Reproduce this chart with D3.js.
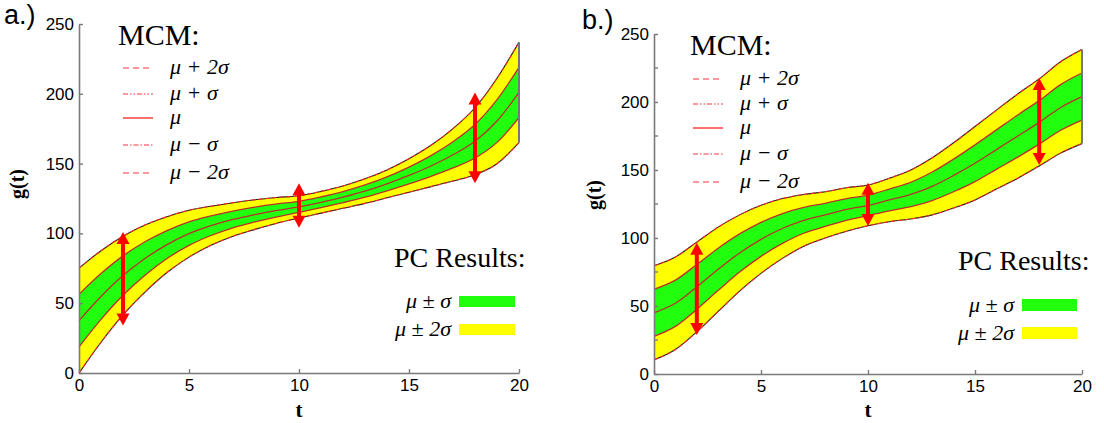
<!DOCTYPE html>
<html><head><meta charset="utf-8">
<script src="https://cdn.jsdelivr.net/npm/d3@7"></script>
<style>body{margin:0;background:#fff}svg{display:block}</style>
</head><body>
<svg id="c" width="1104" height="423"></svg>
<script>
// ---- data ----
const tValues = [0,1,2,3,4,5,6,7,8,9,10,11,12,13,14,15,16,17,18,19,20];
const muA    = [37.5,54.8,69.8,82,92,99.8,105.5,110,113.5,116.5,119,122.3,126,130.3,135.5,141.5,148.3,156.3,166,180.5,201];
const sigmaA = [18.8,16.4,14.1,12,10,8.4,7,6,5.3,4.6,4,3.9,4,4.4,5,6,7.4,9.4,12,15.3,18];
const muB    = [45,52,64,77,89,99,107,113,117,121,124,128,132,138,146,155,165,175,185,196,204];
const sigmaB = [17.3,17,16.5,15.5,14,12.5,11,9.5,8.5,8,7.5,8,9,10.5,12,13.5,14.5,15.5,16,16.8,17.3];
const arrowT = [2,10,18];
const arrowLowA  = [34,104,136];
const arrowHighA = [101,136,201];
const arrowLowB  = [28.7,108.8,153.7];
const arrowHighB = [96.5,140.7,217.6];
const xTicks = [0,5,10,15,20];
const yTicks = [0,50,100,150,200,250];
const yMinorTicksB = [25,75,125,175,225];
const mcmLabels = ["μ + 2σ","μ + σ","μ","μ − σ","μ − 2σ"];
const pcLabels = ["μ ± σ","μ ± 2σ"];
const panelLabels = ["a.)","b.)"];

const svg = d3.select("#c");

const panels = [
  {mu:muA, sigma:sigmaA, lo:arrowLowA, hi:arrowHighA, label:panelLabels[0],
   x0:79, x1:519, y0:373, y1:24, minor:[],
   lab:[4,24], ylab:[24,184], tlab:[299,417],
   mcm:{tx:118, ty:45, lx0:123, lx1:153, tx2:170, rows:[68,94,118,145,173]},
   pc:{tx:394, ty:267, lx:388, rx:459, rw:56, rows:[[296,307],[324,335]]}},
  {mu:muB, sigma:sigmaB, lo:arrowLowB, hi:arrowHighB, label:panelLabels[1],
   x0:654, x1:1082, y0:374, y1:34, minor:yMinorTicksB,
   lab:[582,29], ylab:[601,195], tlab:[868,417],
   mcm:{tx:690, ty:55, lx0:693, lx1:723, tx2:740, rows:[79,104,128,154,182]},
   pc:{tx:958, ty:270, lx:953, rx:1022, rw:55, rows:[[299,311],[327,339]]}}
];

const legendDash = ["6,4","5,2,1.5,2,1.5,2",null,"5,2,1.5,2","6,4"];

panels.forEach(p => {
  const x = d3.scaleLinear().domain([0,20]).range([p.x0,p.x1]);
  const y = d3.scaleLinear().domain([0,250]).range([p.y0,p.y1]);
  const g = svg.append("g");
  const pts = tValues.map((t,i)=>({t, m:p.mu[i], s:p.sigma[i]}));
  const curve = d3.curveMonotoneX;
  const band = k => d3.area().x(d=>x(d.t)).y0(d=>y(d.m-k*d.s)).y1(d=>y(d.m+k*d.s)).curve(curve);
  const line = k => d3.line().x(d=>x(d.t)).y(d=>y(d.m+k*d.s)).curve(curve);

  g.append("path").attr("d",band(2)(pts)).attr("fill","#ffff00");
  g.append("path").attr("d",band(1)(pts)).attr("fill","#22ff0e");
  // outer edges
  [2,-2].forEach(k=>{
    g.append("path").attr("d",line(k)(pts)).attr("fill","none").attr("stroke","#222").attr("stroke-width",1.1);
    g.append("path").attr("d",line(k)(pts)).attr("fill","none").attr("stroke","#ff2a2a").attr("stroke-width",1.1).attr("stroke-dasharray","4,3");
  });
  [1,0,-1].forEach(k=>{
    g.append("path").attr("d",line(k)(pts)).attr("fill","none").attr("stroke","#b8302c").attr("stroke-width",1.3);
  });
  // right-end edge
  const last = pts[pts.length-1];
  g.append("line").attr("x1",x(last.t)).attr("x2",x(last.t))
    .attr("y1",y(last.m-2*last.s)).attr("y2",y(last.m+2*last.s))
    .attr("stroke","#777").attr("stroke-width",2);

  // arrows
  arrowT.forEach((t,i)=>{
    const ax = x(t), yt = y(p.hi[i]), yb = y(p.lo[i]);
    const hl = 12, hw = 6.5;
    g.append("line").attr("x1",ax).attr("x2",ax).attr("y1",yt+hl-1).attr("y2",yb-hl+1)
      .attr("stroke","#ff0000").attr("stroke-width",4);
    g.append("path").attr("d",`M${ax},${yt}L${ax-hw},${yt+hl}L${ax+hw},${yt+hl}Z`).attr("fill","#ff0000");
    g.append("path").attr("d",`M${ax},${yb}L${ax-hw},${yb-hl}L${ax+hw},${yb-hl}Z`).attr("fill","#ff0000");
  });

  // axes
  const xa = g.append("g").attr("transform",`translate(0,${p.y0})`)
    .call(d3.axisBottom(x).tickValues(xTicks).tickSize(-4).tickSizeOuter(0).tickPadding(6));
  const ya = g.append("g").attr("transform",`translate(${p.x0},0)`)
    .call(d3.axisLeft(y).tickValues(yTicks).tickSize(-4).tickSizeOuter(0).tickPadding(5));
  [xa,ya].forEach(a=>{
    a.select(".domain").attr("stroke","#7a7a7a").attr("stroke-width",1.6);
    a.selectAll(".tick line").attr("stroke","#7a7a7a").attr("stroke-width",1.4);
    a.selectAll("text").attr("font-family","Arial, 'Liberation Sans', sans-serif").attr("fill","#000");
  });
  xa.selectAll("text").attr("font-size",17);
  ya.selectAll("text").attr("font-size",17);
  if (p.minor.length){
    g.append("g").selectAll("line").data(p.minor).join("line")
      .attr("x1",p.x0).attr("x2",p.x0+4).attr("y1",d=>y(d)).attr("y2",d=>y(d))
      .attr("stroke","#7a7a7a").attr("stroke-width",1.4);
  }

  // labels
  g.append("text").attr("x",p.lab[0]).attr("y",p.lab[1]).text(p.label)
    .attr("font-family","Arial, 'Liberation Sans', sans-serif").attr("font-size",27);
  g.append("text").attr("transform",`translate(${p.ylab[0]},${p.ylab[1]}) rotate(-90)`)
    .attr("text-anchor","middle").text("g(t)")
    .attr("font-family","'Liberation Serif','Times New Roman',serif").attr("font-weight","bold").attr("font-size",20);
  g.append("text").attr("x",p.tlab[0]).attr("y",p.tlab[1]).attr("text-anchor","middle").text("t")
    .attr("font-family","'Liberation Serif','Times New Roman',serif").attr("font-weight","bold").attr("font-size",21);

  // MCM legend
  const m = p.mcm;
  g.append("text").attr("x",m.tx).attr("y",m.ty).text("MCM:")
    .attr("font-family","'Liberation Serif','Times New Roman',serif").attr("font-size",30);
  mcmLabels.forEach((lb,i)=>{
    const ly = m.rows[i];
    const l = g.append("line").attr("x1",m.lx0).attr("x2",m.lx1).attr("y1",ly).attr("y2",ly)
      .attr("stroke", i===2 ? "#ff1010" : "#ff3040").attr("stroke-width",1.2);
    if (legendDash[i]) l.attr("stroke-dasharray",legendDash[i]);
    g.append("text").attr("x",m.tx2).attr("y",ly+6).text(lb)
      .attr("font-family","'Liberation Serif','Times New Roman',serif").attr("font-style","italic").attr("font-size",22);
  });

  // PC legend
  const c = p.pc;
  g.append("text").attr("x",c.tx).attr("y",c.ty).text("PC Results:")
    .attr("font-family","'Liberation Serif','Times New Roman',serif").attr("font-size",28);
  ["#22ff0e","#ffff00"].forEach((col,i)=>{
    const [r0,r1] = c.rows[i];
    g.append("rect").attr("x",c.rx).attr("y",r0).attr("width",c.rw).attr("height",r1-r0).attr("fill",col);
    g.append("text").attr("x",c.rx-8).attr("y",r1+1).attr("text-anchor","end").text(pcLabels[i])
      .attr("font-family","'Liberation Serif','Times New Roman',serif").attr("font-style","italic").attr("font-size",22);
  });
});
</script>
</body></html>
